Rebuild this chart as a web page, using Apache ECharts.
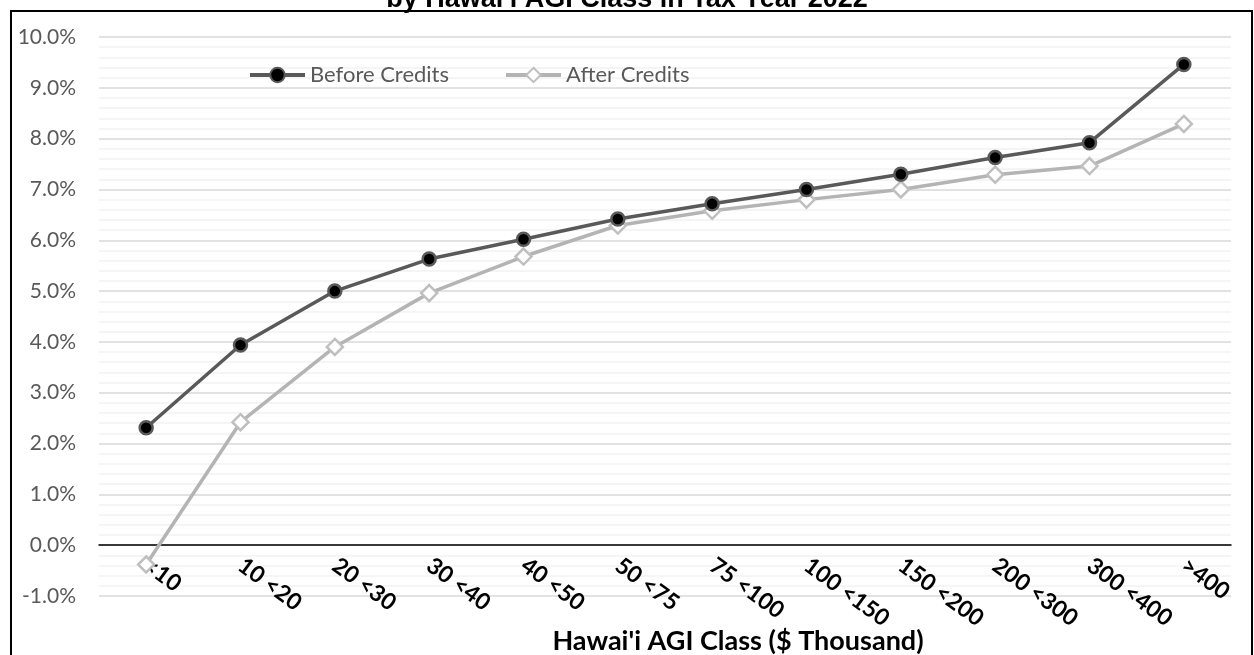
<!DOCTYPE html>
<html>
<head>
<meta charset="utf-8">
<script src="https://cdn.jsdelivr.net/npm/echarts@6/dist/echarts.min.js"></script>
<style>
html,body{margin:0;padding:0;background:#fff;}
#chart{width:1254px;height:655px;}
</style>
</head>
<body>
<div id="chart"></div>
<script>
const categories = ['<10','10 <20','20 <30','30 <40','40 <50','50 <75','75 <100','100 <150','150 <200','200 <300','300 <400','>400'];
const beforeCredits = [2.31, 3.94, 5.00, 5.63, 6.02, 6.42, 6.72, 7.00, 7.30, 7.63, 7.92, 9.46];
const afterCredits = [-0.38, 2.42, 3.90, 4.96, 5.68, 6.29, 6.58, 6.80, 7.00, 7.29, 7.46, 8.29];
const seriesNames = ['Before Credits', 'After Credits'];
const titleText = "by Hawai'i AGI Class in Tax Year 2022";
const xAxisTitle = "Hawai'i AGI Class ($ Thousand)";
const yMin = -1, yMax = 10, yStep = 1;

const chart = echarts.init(document.getElementById('chart'), null, {renderer: 'canvas'});
const option = {
  backgroundColor: '#ffffff',
  animation: false,
  grid: {left: 99, right: 23, top: 37, bottom: 59, containLabel: false, outerBoundsMode: 'none'},
  legend: {
    left: 243, top: 59,
    itemWidth: 55, itemHeight: 18, itemGap: 55,
    textStyle: {fontFamily: 'Lato', fontSize: 22, color: '#595959'},
    lineStyle: {width: 4},
    data: seriesNames
  },
  xAxis: {
    type: 'category',
    data: categories,
    boundaryGap: true,
    axisLine: {show: true, onZero: true, lineStyle: {color: '#000000', width: 1.5}},
    axisTick: {show: false},
    axisLabel: {
      rotate: -36, margin: -33, interval: 0,
      fontFamily: 'Lato', fontWeight: 'bold', fontSize: 23, color: '#000000'
    },
    splitLine: {show: false}
  },
  yAxis: {
    type: 'value',
    min: yMin, max: yMax, interval: yStep,
    axisLine: {show: false},
    axisTick: {show: false},
    axisLabel: {
      margin: 23, fontFamily: 'Lato', fontSize: 21, color: '#595959',
      formatter: v => v.toFixed(1) + '%'
    },
    splitLine: {show: true, lineStyle: {color: '#d9d9d9', width: 1.5}},
    minorTick: {show: false, splitNumber: 5},
    minorSplitLine: {show: true, lineStyle: {color: '#f2f2f2', width: 1.5}}
  },
  series: [
    {
      name: seriesNames[0], type: 'line', data: beforeCredits,
      symbol: 'circle', symbolSize: 13,
      lineStyle: {color: '#595959', width: 3.5},
      itemStyle: {color: '#000000', borderColor: '#595959', borderWidth: 2.5},
      z: 3
    },
    {
      name: seriesNames[1], type: 'line', data: afterCredits,
      symbol: 'diamond', symbolSize: 16,
      lineStyle: {color: '#b4b4b4', width: 3.5},
      itemStyle: {color: '#ffffff', borderColor: '#bfbfbf', borderWidth: 2.5},
      z: 2
    }
  ],
  graphic: [
    {
      type: 'rect', silent: true, z: 100,
      shape: {x: 11, y: 11, width: 1241, height: 680},
      style: {fill: 'none', stroke: '#000000', lineWidth: 2}
    },
    {
      type: 'text', z: 101,
      style: {
        text: titleText, x: 627, y: 13,
        align: 'center', verticalAlign: 'bottom',
        fontFamily: 'Liberation Sans', fontWeight: 'bold', fontSize: 27, fill: '#000000'
      }
    },
    {
      type: 'text', z: 101,
      style: {
        text: xAxisTitle, x: 738, y: 641,
        align: 'center', verticalAlign: 'middle',
        fontFamily: 'Lato', fontWeight: 'bold', fontSize: 27, fill: '#000000'
      }
    }
  ]
};
chart.setOption(option);
</script>
</body>
</html>
